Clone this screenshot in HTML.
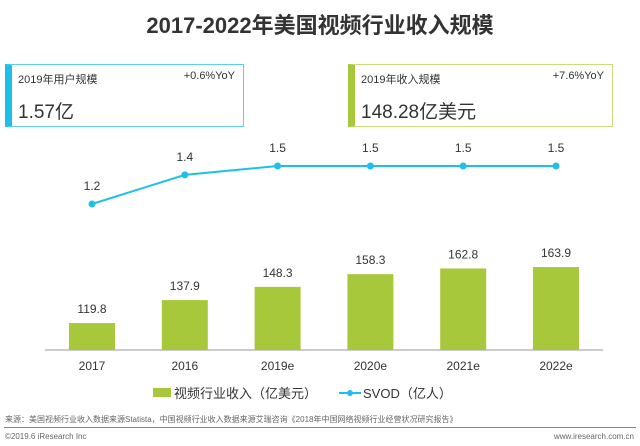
<!DOCTYPE html>
<html><head><meta charset="utf-8">
<style>
body{margin:0;width:640px;height:446px;background:#fff;font-family:"Liberation Sans","Noto Sans CJK SC",sans-serif;overflow:hidden;position:relative}
.abs{position:absolute}
</style></head><body>
<div class="abs" style="left:0;width:640px;top:8px;text-align:center;font-size:22px;font-weight:bold;color:#333">2017-2022年美国视频行业收入规模</div>

<div class="abs" style="left:5px;top:64px;width:239px;height:63px;border:1px solid #5dd0ee;border-left:7px solid #1ec0ea;box-sizing:border-box">
 <div class="abs" style="left:6px;top:6px;font-size:11px;color:#333">2019年用户规模</div>
 <div class="abs" style="right:8px;top:5px;font-size:11px;color:#333">+0.6%YoY</div>
 <div class="abs" style="left:6px;top:32px;font-size:19px;color:#333">1.57亿</div>
</div>
<div class="abs" style="left:348px;top:64px;width:265px;height:63px;border:1px solid #c9dd7a;border-left:7px solid #a6c83a;box-sizing:border-box">
 <div class="abs" style="left:6px;top:6px;font-size:11px;color:#333">2019年收入规模</div>
 <div class="abs" style="right:8px;top:5px;font-size:11px;color:#333">+7.6%YoY</div>
 <div class="abs" style="left:6px;top:32px;font-size:19px;color:#333">148.28亿美元</div>
</div>

<svg class="abs" style="left:0;top:0" width="640" height="446" id="chart"></svg>

<div class="abs" style="left:153px;top:383px;font-size:13px;color:#333;display:flex;align-items:center">
 <span style="display:inline-block;width:18px;height:9px;background:#a6c83a;margin-right:3px"></span>
 <span>视频行业收入（亿美元）</span>
 <svg width="22" height="10" style="margin-left:22px;margin-right:2px"><line x1="0" y1="5" x2="22" y2="5" stroke="#1ec0ea" stroke-width="2"/><circle cx="11" cy="5" r="3" fill="#1ec0ea"/></svg>
 <span>SVOD（亿人）</span>
</div>
<div class="abs" style="left:5px;top:414px;font-size:8px;color:#666">来源：美国视频行业收入数据来源Statista，中国视频行业收入数据来源艾瑞咨询《2018年中国网络视频行业经营状况研究报告》</div>
<div class="abs" style="left:4px;top:427px;width:632px;height:1px;background:#888"></div>
<div class="abs" style="left:5px;top:432px;font-size:8px;color:#666">©2019.6 iResearch Inc</div>
<div class="abs" style="right:6px;top:432px;font-size:8px;color:#666">www.iresearch.com.cn</div>

<script>
const categories=["2017","2016","2019e","2020e","2021e","2022e"];
const revenue=[119.8,137.9,148.3,158.3,162.8,163.9];
const svod=[1.2,1.43,1.5,1.5,1.5,1.5];
const svg=document.getElementById('chart');
const NS='http://www.w3.org/2000/svg';
const x0=92,step=92.8,baseY=350;
const xPos=i=>x0+i*step;
const yBar=v=>baseY-(v-98.6)*1.27;
const yLine=v=>204-(v-1.2)*126.7;
function mk(t,a){const e=document.createElementNS(NS,t);for(const k in a)e.setAttribute(k,a[k]);svg.appendChild(e);return e;}
const ax=mk('line',{x1:45,y1:baseY,x2:603,y2:baseY,stroke:'#999','stroke-width':1});


categories.forEach((c,i)=>{
 const x=xPos(i),y=yBar(revenue[i]);
 const b=mk('rect',{x:x-23,y:y,width:46,height:baseY-y,fill:'#a6c83a'});
 
 
 const t=mk('text',{x:x,y:y-10,'text-anchor':'middle','font-size':12,fill:'#333'});t.textContent=revenue[i].toFixed(1);
 
 
 const l=mk('text',{x:x,y:baseY+20,'text-anchor':'middle','font-size':12,fill:'#333'});l.textContent=c;
 
 
});
const pl=mk('polyline',{points:svod.map((v,i)=>xPos(i)+','+yLine(v)).join(' '),fill:'none',stroke:'#1ec0ea','stroke-width':2});


svod.forEach((v,i)=>{
 const c=mk('circle',{cx:xPos(i),cy:yLine(v),r:3.5,fill:'#1ec0ea'});
 
 
 const t=mk('text',{x:xPos(i),y:yLine(v)-14,'text-anchor':'middle','font-size':12,fill:'#333'});t.textContent=v.toFixed(1);
 
 
});
</script>
</body></html>
